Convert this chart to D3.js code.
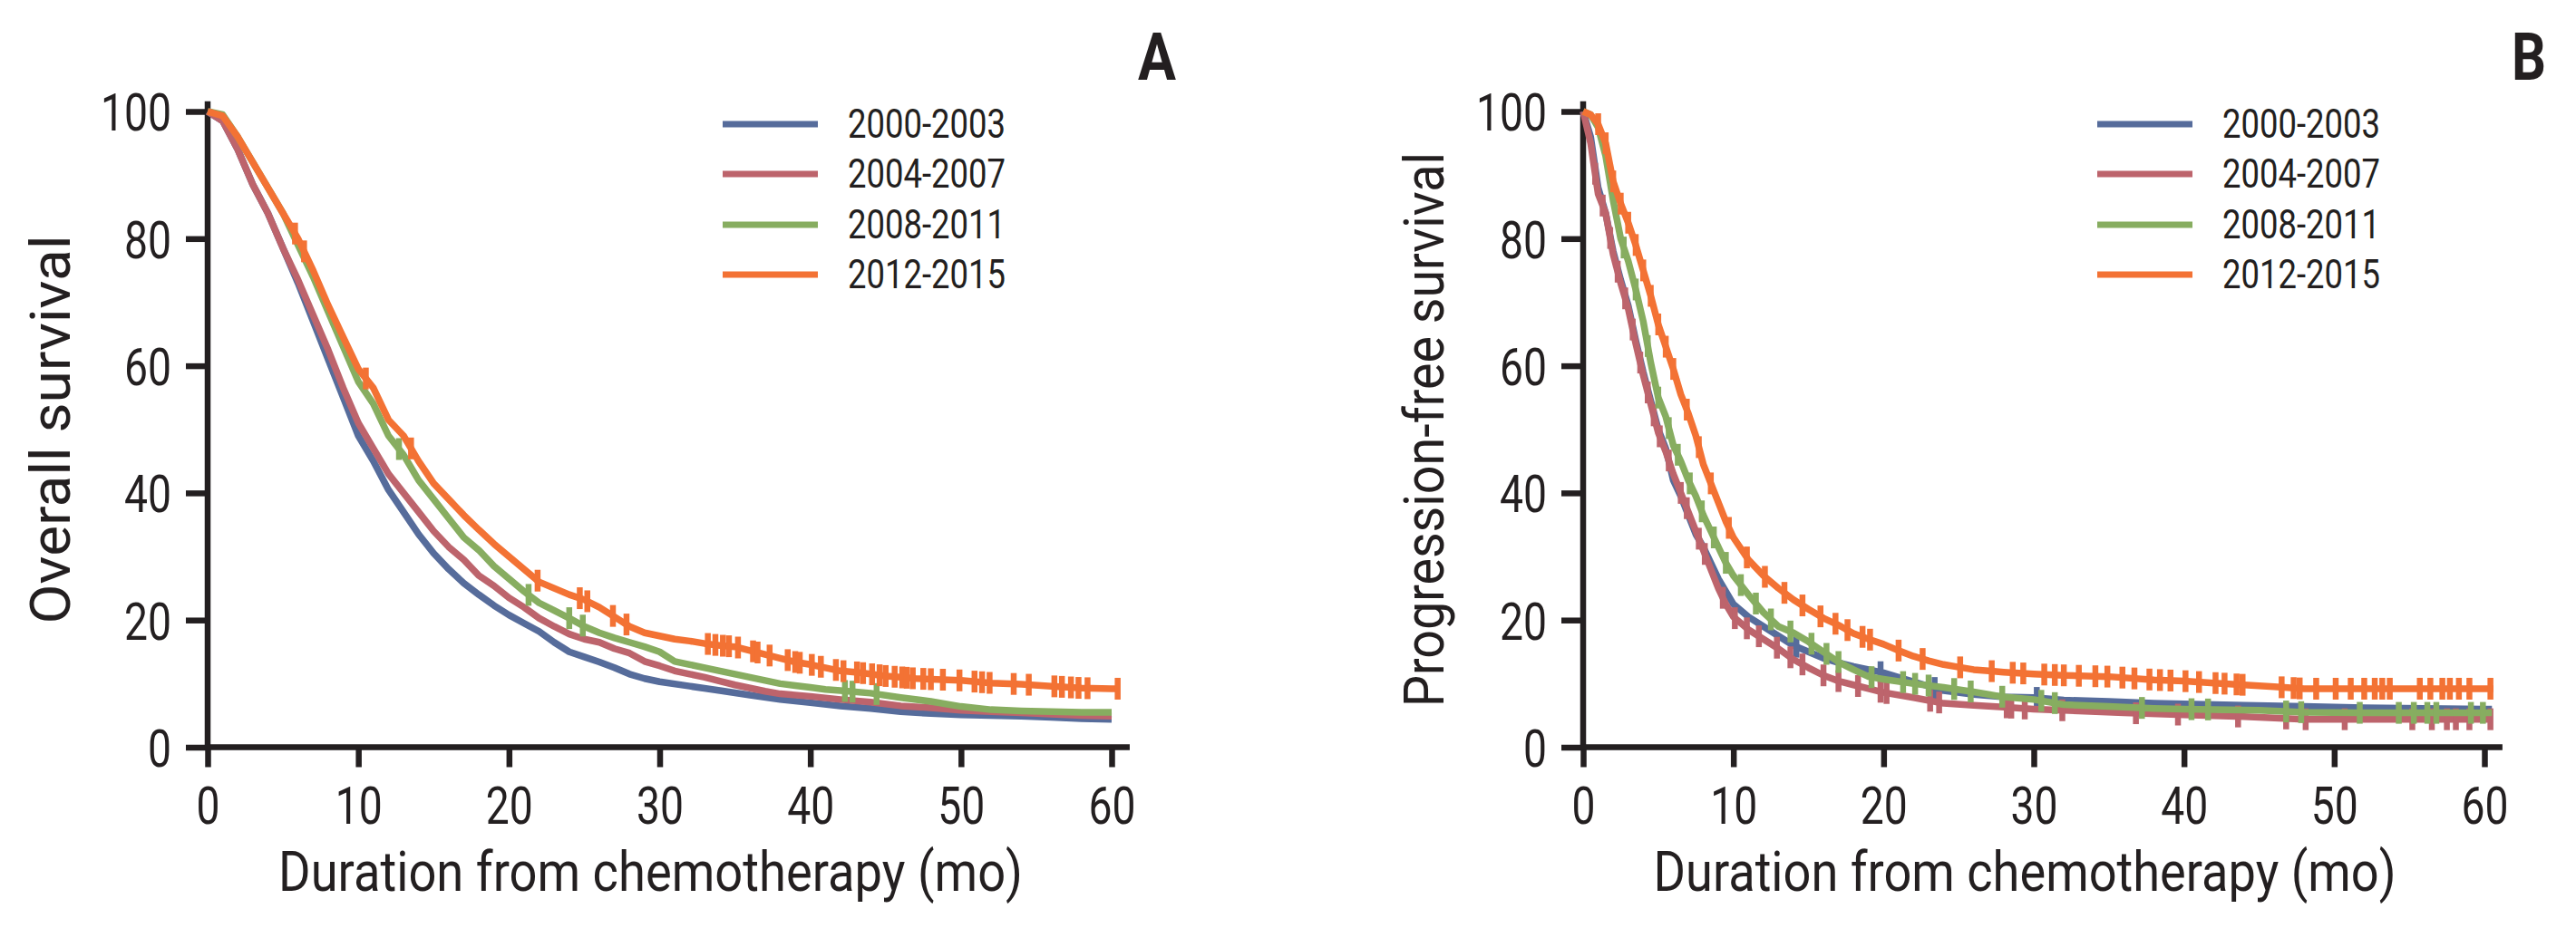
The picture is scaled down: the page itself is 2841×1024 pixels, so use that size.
<!DOCTYPE html>
<html><head><meta charset="utf-8">
<script src="https://cdn.jsdelivr.net/npm/d3@7"></script>
<style>
body{margin:0;background:#fff}
text{font-family:Roboto,"DejaVu Sans Condensed","Noto Sans",sans-serif;fill:#231f20;font-weight:400}
</style>
</head><body>
<svg id="chart" width="2841" height="1024"></svg>
<script>
// ---------- data ----------
const categories = ["2000-2003", "2004-2007", "2008-2011", "2012-2015"];
const seriesColors = ["#566c9b", "#bd646c", "#87ad60", "#f37234"];
const xTickValues = [0, 10, 20, 30, 40, 50, 60];
const yTickValues = [0, 20, 40, 60, 80, 100];
const panelLabels = ["A", "B"];
const yTitles = ["Overall survival", "Progression-free survival"];
const xTitle = "Duration from chemotherapy (mo)";

// Overall survival (panel A): [month, %]
const os2000 = [[0,100],[1,98.5],[2,94],[3,88.5],[4,84],[5,78.5],[6,73],[7,67],[8,61],[9,55],[10,49],[11,45],[12,40.5],[13,37],[14,33.5],[15,30.5],[16,28],[17,25.8],[18,24],[19,22.3],[20,20.8],[21,19.5],[22,18.2],[23,16.5],[24,15],[25,14.2],[26,13.4],[27,12.5],[28,11.5],[29,10.8],[30,10.3],[32,9.6],[34,8.9],[36,8.2],[38,7.5],[40,7.0],[42,6.5],[44,6.1],[46,5.6],[48,5.3],[50,5.1],[52,5.0],[54,4.9],[56,4.7],[58,4.5],[60,4.4]];
const os2004 = [[0,100],[1,98.5],[2,94],[3,88.5],[4,84],[5,78.5],[6,73.5],[7,68],[8,62.5],[9,56.5],[10,51],[11,47],[12,43],[13,40],[14,37],[15,34],[16,31.5],[17,29.5],[18,27],[19,25.4],[20,23.5],[21,22],[22,20.3],[23,19],[24,17.8],[25,17],[26,16.5],[27,15.5],[28,14.8],[29,13.5],[30,12.8],[31,12],[32,11.5],[33,11],[34,10.4],[35,9.8],[36,9.3],[37,8.8],[38,8.4],[40,8],[42,7.5],[44,7.1],[46,6.5],[48,6.2],[50,5.8],[52,5.6],[54,5.4],[56,5.2],[58,5.0],[60,4.9]];
const os2008 = [[0,100],[1,99.5],[2,96],[3,92],[4,88],[5,84],[6,79],[7,74],[8,68.5],[9,63],[10,57.5],[11,54],[12,49],[13,46],[14,42],[15,39],[16,36],[17,33],[18,31],[19,28.5],[20,26.5],[21,24.5],[22,22.7],[23,21.5],[24,20.3],[25,19],[26,18],[27,17.2],[28,16.5],[29,15.8],[30,15],[31,13.5],[32,13],[33,12.5],[34,12],[35,11.5],[36,11],[37,10.5],[38,10],[39,9.7],[40,9.4],[41,9.1],[42,8.9],[44,8.5],[46,7.8],[48,7.2],[50,6.4],[52,5.9],[54,5.7],[56,5.6],[58,5.5],[60,5.5]];
const os2012 = [[0,100],[1,99.3],[2,96],[3,92],[4,88],[5,84],[6,80],[7,75],[8,69.5],[9,64.5],[10,59.5],[11,56.5],[12,51.5],[13,49],[14,45],[15,41.5],[16,39],[17,36.5],[18,34.2],[19,32],[20,30],[21,28],[22,26],[23,25],[24,24],[25,23.2],[26,22],[27,20.5],[28,19],[29,18],[30,17.5],[31,17],[32,16.7],[33,16.3],[34,16],[35,15.8],[36,15.2],[37,14.6],[38,14],[39,13.4],[40,13],[41,12.5],[42,12],[43,11.8],[44,11.5],[45,11.2],[46,11],[47,10.8],[48,10.7],[50,10.5],[52,10.1],[54,9.9],[56,9.6],[58,9.3],[60,9.2],[60.5,9.2]];
// censor times, panel A
const osCens2000 = [];
const osCens2004 = [];
const osCens2008 = [12.7,21.3,24.0,24.9,42.3,42.8,44.4];
const osCens2012 = [5.8,6.4,10.5,13.5,21.9,24.7,25.2,26.9,27.8,33.2,33.7,34.2,34.6,35.2,36.2,36.5,37.3,38.5,39.0,39.3,40.1,40.7,41.7,42.2,43.1,43.5,44.1,44.6,45.0,45.6,46.1,46.4,46.8,47.5,48.0,48.8,49.9,50.9,51.4,51.9,53.5,54.5,56.2,56.7,57.3,57.8,58.4,60.4];

// Progression-free survival (panel B): [month, %]
const pfs2000 = [[0,100],[0.5,96],[1,88],[1.5,84],[2,78],[2.5,73.5],[3,69.5],[3.5,64],[4,59],[4.5,54.5],[5,50],[5.5,47],[6,42],[6.5,39.5],[7,36.5],[7.5,33.5],[8,31.5],[8.5,29],[9,26.5],[9.5,24.5],[10,22.5],[11,20.5],[12,19],[13,17.5],[14,16],[15,15],[16,14],[17,13.3],[18,12.7],[19,12.2],[20,11.7],[22,10.3],[24,8.9],[26,8.3],[28,7.9],[30,7.8],[32,7.4],[35,7.2],[38,6.9],[40,6.8],[44,6.6],[48,6.4],[52,6.2],[56,6.1],[60,6.0],[60.5,6.0]];
const pfs2004 = [[0,100],[0.5,95],[1,87],[1.5,84],[2,77.5],[2.5,73],[3,69],[3.5,63.5],[4,58.5],[4.5,54],[5,49.5],[5.5,46.5],[6,43],[6.5,40],[7,37],[7.5,34],[8,31],[8.5,28],[9,25],[9.5,22.5],[10,20.5],[11,18.5],[12,17],[13,15.5],[14,13.8],[15,12.5],[16,11.3],[17,10.4],[18,9.8],[19,9.2],[20,8.6],[22,7.8],[24,6.9],[26,6.6],[28,6.3],[30,6.0],[33,5.7],[36,5.4],[40,5.1],[44,4.8],[48,4.4],[52,4.4],[56,4.4],[60,4.4],[60.5,4.4]];
const pfs2008 = [[0,100],[0.5,99.5],[1,97.5],[1.5,93],[2,86],[2.5,80],[3,76.5],[3.5,72],[4,67],[4.5,60.5],[5,55],[5.5,52],[6,47.5],[6.5,45],[7,42],[7.5,39.5],[8,36.5],[8.5,34],[9,31.5],[9.5,29],[10,27],[11,24],[12,21.2],[13,19],[14,18],[15,16.6],[16,15],[17,13.4],[18,12.2],[19,11.1],[20,10.7],[22,10],[24,9.4],[26,8.7],[28,7.9],[30,7.5],[32,6.7],[35,6.4],[38,6.1],[40,6.0],[45,5.8],[48,5.5],[52,5.4],[56,5.4],[60,5.4],[60.5,5.4]];
const pfs2012 = [[0,100],[0.5,99.5],[1,98],[1.5,95],[2,89],[2.5,85.5],[3,82.5],[3.5,79],[4,75],[4.5,71],[5,66.5],[5.5,63],[6,59.5],[6.5,55.5],[7,52.5],[7.5,49],[8,44.5],[8.5,41.5],[9,38.5],[9.5,35.5],[10,33],[11,29.5],[12,27],[13,25],[14,23.2],[15,21.7],[16,20.3],[17,19.2],[18,17.9],[19,17],[20,16.2],[21,15.2],[22,14.3],[23,13.6],[24,13],[25,12.6],[26,12.2],[27,12],[28,11.8],[30,11.5],[32,11.3],[35,11.1],[38,10.6],[40,10.4],[42,10.1],[44,9.8],[46,9.5],[48,9.2],[52,9.2],[56,9.2],[60,9.2],[60.6,9.2]];
// censor times, panel B
const pfsCens2000 = [14.2,19.8,23.4,30.2];
const pfsCens2004 = [0.8,1.3,1.8,2.3,2.8,3.3,3.8,4.3,4.7,5.1,5.7,6.5,6.9,7.7,8.1,9.3,10.1,10.9,11.7,12.9,13.8,14.6,16.0,17.0,18.3,19.8,20.2,23.1,23.7,28.2,28.5,29.4,31.9,36.8,39.6,43.6,46.8,48.1,50.7,55.2,56.5,57.5,58.1,59.0,60.4];
const pfsCens2008 = [2.7,3.5,4.3,5.0,5.7,6.3,7.1,7.9,8.7,9.5,10.5,11.5,12.5,13.8,15.2,16.2,17.0,19.2,21.3,22.1,23.0,24.7,25.8,27.9,30.5,31.4,37.2,40.5,41.6,46.8,47.8,51.7,54.3,55.3,56.2,56.8,59.1,59.9];
const pfsCens2012 = [1.0,1.5,2.0,2.5,3.0,3.5,4.0,4.5,5.0,5.5,6.0,6.9,7.7,8.5,9.7,10.9,12.1,13.4,14.6,15.8,16.8,17.6,18.6,19.1,21.0,22.6,25.1,27.2,28.6,29.3,30.7,31.4,32.0,33.0,34.1,34.9,35.9,36.7,37.7,38.4,39.1,40.1,41.0,42.1,42.7,43.5,43.9,46.5,47.3,47.7,48.8,50.1,51.1,52.0,52.7,53.2,53.7,55.7,56.4,57.2,57.7,58.3,59.0,60.4];

// ---------- drawing ----------
const svg = d3.select("#chart");
const ink = "#231f20";

const panels = [
  { label: panelLabels[0], yTitle: yTitles[0], series: [os2000, os2004, os2008, os2012],
    cens: [osCens2000, osCens2004, osCens2008, osCens2012],
    x0: 229, x1: 1226, labelX: 1297, labelLen: 42, legendX: 797, yTitleX: 77, yTitleLen: 429, xTitleLen: 821 },
  { label: panelLabels[1], yTitle: yTitles[1], series: [pfs2000, pfs2004, pfs2008, pfs2012],
    cens: [pfsCens2000, pfsCens2004, pfsCens2008, pfsCens2012],
    x0: 1746, x1: 2740, labelX: 2808, labelLen: 38, legendX: 2313, yTitleX: 1592, yTitleLen: 612, xTitleLen: 819 }
];

const yTop = 123, yBot = 824.5;

function valueAt(data, t) {
  for (let k = 1; k < data.length; k++) {
    if (data[k][0] >= t) {
      const a = data[k - 1], b = data[k];
      return a[1] + (b[1] - a[1]) * (t - a[0]) / (b[0] - a[0]);
    }
  }
  return data[data.length - 1][1];
}

panels.forEach(p => {
  const x = d3.scaleLinear().domain([0, 60]).range([p.x0, p.x1]);
  const y = d3.scaleLinear().domain([0, 100]).range([yBot, yTop]);
  const g = svg.append("g");

  // axes
  const yAxis = d3.axisLeft(y).tickValues(yTickValues).tickSize(24).tickSizeOuter(0);
  const yg = g.append("g").attr("transform", `translate(${p.x0},0)`).call(yAxis);
  const xAxis = d3.axisBottom(x).tickValues(xTickValues).tickSize(22).tickSizeOuter(0);
  const xg = g.append("g").attr("transform", `translate(0,${yBot})`).call(xAxis);
  [yg, xg].forEach(a => {
    a.select(".domain").remove();
    a.selectAll(".tick line").attr("stroke", ink).attr("stroke-width", 6.5);
    a.selectAll(".tick text").attr("fill", ink).style("font-size", "58px")
      .style("font-family", "Roboto, 'DejaVu Sans Condensed', sans-serif").style("font-weight", 400)
      .attr("textLength", d => String(d).length * 26).attr("lengthAdjust", "spacingAndGlyphs");
  });
  yg.selectAll(".tick text").attr("x", -40).attr("dy", "0.36em");
  xg.selectAll(".tick text").attr("y", 84).attr("dy", 0);
  // axis lines (extend slightly beyond data range)
  g.append("line").attr("x1", p.x0).attr("x2", p.x0).attr("y1", y(101.6)).attr("y2", yBot + 3)
    .attr("stroke", ink).attr("stroke-width", 6.5);
  g.append("line").attr("x1", p.x0 - 3).attr("x2", x(61.2)).attr("y1", yBot).attr("y2", yBot)
    .attr("stroke", ink).attr("stroke-width", 6.5);

  // curves
  const line = d3.line().x(d => x(d[0])).y(d => y(d[1])).curve(d3.curveLinear);
  p.series.forEach((s, i) => {
    g.append("path").datum(s).attr("d", line).attr("fill", "none")
      .attr("stroke", seriesColors[i]).attr("stroke-width", 7.5).attr("stroke-linejoin", "round");
    g.selectAll(null).data(p.cens[i]).enter().append("line")
      .attr("x1", t => x(t)).attr("x2", t => x(t))
      .attr("y1", t => y(valueAt(s, t)) - 12).attr("y2", t => y(valueAt(s, t)) + 12)
      .attr("stroke", seriesColors[i]).attr("stroke-width", 6.5);
  });

  // legend
  const rowY = [137, 192, 248, 303];
  categories.forEach((c, i) => {
    g.append("line").attr("x1", p.legendX).attr("x2", p.legendX + 105)
      .attr("y1", rowY[i]).attr("y2", rowY[i]).attr("stroke", seriesColors[i]).attr("stroke-width", 7);
    g.append("text").attr("x", p.legendX + 138).attr("y", rowY[i] + 15)
      .attr("textLength", 174).attr("lengthAdjust", "spacingAndGlyphs")
      .style("font-size", "44px").text(c);
  });

  // titles
  g.append("text").attr("x", (p.x0 + p.x1) / 2 - 10).attr("y", 983).attr("text-anchor", "middle")
    .attr("textLength", p.xTitleLen).attr("lengthAdjust", "spacingAndGlyphs")
    .style("font-size", "61px").text(xTitle);
  g.append("text").attr("transform", `translate(${p.yTitleX},474) rotate(-90)`).attr("text-anchor", "middle")
    .attr("textLength", p.yTitleLen).attr("lengthAdjust", "spacingAndGlyphs")
    .style("font-size", "61px").text(p.yTitle);
  g.append("text").attr("x", p.labelX).attr("y", 88).attr("text-anchor", "end")
    .attr("textLength", p.labelLen).attr("lengthAdjust", "spacingAndGlyphs")
    .style("font-size", "72px").style("font-weight", "bold").text(p.label);
});
</script>
</body></html>
